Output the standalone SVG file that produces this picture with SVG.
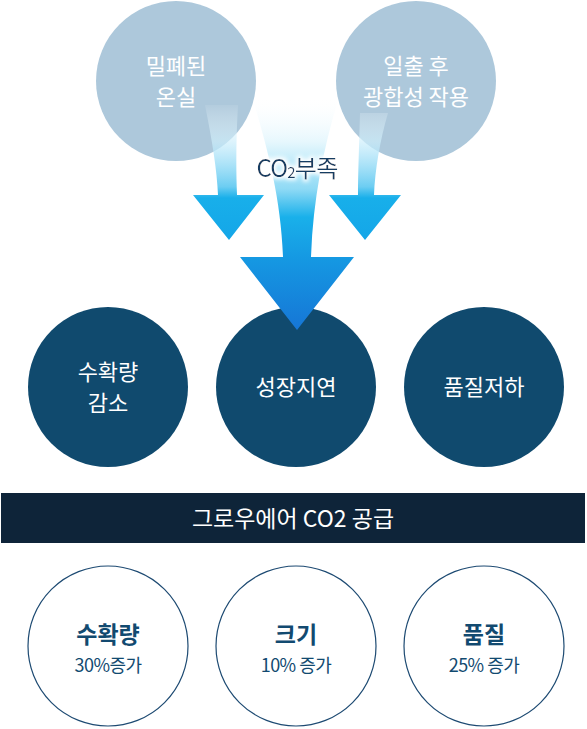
<svg xmlns="http://www.w3.org/2000/svg" width="587" height="729" viewBox="0 0 587 729">
<style>
text{font-family:"Noto Sans CJK KR","Noto Sans",sans-serif;text-anchor:middle}
.top{fill:#adc8db}
.topt{fill:#fff;font-size:22px}
.mid{fill:#104a6e}
.midt{fill:#fff;font-size:22px}
.bot{fill:#fff;stroke:#1d4a72;stroke-width:1.2}
.bt1{fill:#124a70;font-size:23px;font-weight:700}
.bt2{fill:#124a70;font-size:18px;letter-spacing:-0.5px}
</style>
<defs>
<linearGradient id="gs" gradientUnits="userSpaceOnUse" x1="0" y1="100" x2="0" y2="240">
<stop offset="0" stop-color="#ffffff" stop-opacity="0"/>
<stop offset="0.3" stop-color="#cdeefb" stop-opacity="0.7"/>
<stop offset="0.62" stop-color="#6ccdf2"/>
<stop offset="0.7" stop-color="#18afea"/>
<stop offset="1" stop-color="#14a6e8"/>
</linearGradient>
<linearGradient id="gc" gradientUnits="userSpaceOnUse" x1="0" y1="95" x2="0" y2="330">
<stop offset="0" stop-color="#ffffff" stop-opacity="0"/>
<stop offset="0.2" stop-color="#e6f7fd"/>
<stop offset="0.4" stop-color="#8fdaf5"/>
<stop offset="0.52" stop-color="#19b0ea"/>
<stop offset="0.7" stop-color="#1598e2"/>
<stop offset="1" stop-color="#1676d6"/>
</linearGradient>
<filter id="glow" x="-20%" y="-40%" width="140%" height="180%">
<feMorphology in="SourceAlpha" operator="dilate" radius="1.5" result="d"/>
<feGaussianBlur in="d" stdDeviation="2" result="b"/>
<feFlood flood-color="#fff"/>
<feComposite in2="b" operator="in" result="w"/>
<feMerge><feMergeNode in="w"/><feMergeNode in="SourceGraphic"/></feMerge>
</filter>
</defs>

<g id="node-closed-greenhouse">
<circle class="top" cx="176" cy="81" r="80"/>
<text class="topt" x="176" y="74">밀폐된</text>
<text class="topt" x="176" y="105">온실</text>
</g>
<g id="node-photosynthesis">
<circle class="top" cx="416" cy="81" r="80"/>
<text class="topt" x="416" y="74">일출 후</text>
<text class="topt" x="416" y="105">광합성 작용</text>
</g>

<g id="node-yield-decrease">
<circle class="mid" cx="108" cy="387" r="80"/>
<text class="midt" x="108" y="380">수확량</text>
<text class="midt" x="108" y="411">감소</text>
</g>
<g id="node-growth-delay">
<circle class="mid" cx="296" cy="387" r="80"/>
<text class="midt" x="296" y="395">성장지연</text>
</g>
<g id="node-quality-decline">
<circle class="mid" cx="484" cy="387" r="80"/>
<text class="midt" x="484" y="395">품질저하</text>
</g>

<g id="connectors">
<path fill="url(#gs)" d="M205,105 C212,140 217,170 218,195 L193,195 L229,240 L264,195 L237,195 C236,170 236,140 238,105 Z"/>
<path fill="url(#gs)" d="M360,113 C359,150 358,175 358,195 L329,195 L365,240 L401,195 L374,195 C375,170 380,140 388,113 Z"/>
<path fill="url(#gc)" d="M253,100 C268,150 281,200 283,257 L240,257 L297,330 L354,257 L311,257 C313,200 323,150 338,100 Z"/>
<text x="297" y="177" filter="url(#glow)" style="fill:#143d62;font-size:24px;letter-spacing:-0.8px">CO<tspan font-size="15" dy="1">2</tspan><tspan dy="-1">부족</tspan></text>
</g>

<g id="node-growair-supply">
<rect x="1" y="493" width="584" height="50" fill="#0e2439"/>
<text x="293" y="527" style="fill:#fff;font-size:23px">그로우에어 CO2 공급</text>
</g>

<g id="node-yield">
<circle class="bot" cx="108" cy="646" r="80"/>
<text class="bt1" x="108" y="643">수확량</text>
<text class="bt2" x="108" y="672">30%증가</text>
</g>
<g id="node-size">
<circle class="bot" cx="296" cy="646" r="80"/>
<text class="bt1" x="296" y="643">크기</text>
<text class="bt2" x="296" y="672">10% 증가</text>
</g>
<g id="node-quality">
<circle class="bot" cx="484" cy="646" r="80"/>
<text class="bt1" x="484" y="643">품질</text>
<text class="bt2" x="484" y="672">25% 증가</text>
</g>
</svg>
